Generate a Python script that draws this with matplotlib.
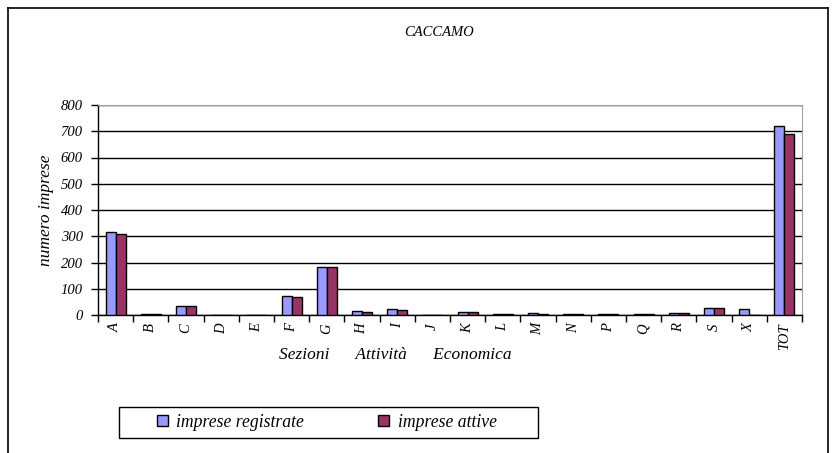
import numpy as np
import matplotlib
matplotlib.use("Agg")
import matplotlib.pyplot as plt
from matplotlib.lines import Line2D
from matplotlib.patches import Rectangle

# dati
sezioni = ["A", "B", "C", "D", "E", "F", "G", "H", "I", "J", "K", "L",
           "M", "N", "P", "Q", "R", "S", "X", "TOT"]
registrate = [315, 2, 35, 0, 0, 73, 182, 14, 22, 1, 12, 2,
              6, 2, 2, 4, 6, 25, 24, 720]
attive = [310, 2, 33, 0, 0, 70, 181, 12, 19, 1, 11, 2,
          5, 2, 2, 4, 6, 25, 1, 688]
yticks = [0, 100, 200, 300, 400, 500, 600, 700, 800]

plt.rcParams.update({
    "font.family": ["Liberation Serif", "DejaVu Serif"],
    "font.style": "italic",
})

W, H = 834, 453
fig = plt.figure(figsize=(W / 100, H / 100), dpi=100)

# cornice esterna
for xs, ys in [((8, 8), (8, H + 5)), ((8, 828), (8, 8)), ((828, 828), (8, H + 5))]:
    fig.add_artist(Line2D([x / W for x in xs], [1 - y / H for y in ys],
                          color="black", lw=1.2, transform=fig.transFigure))

ax = fig.add_axes([98 / W, 1 - 315 / H, (802 - 98) / W, (315 - 105) / H])

x = np.arange(len(sezioni))
bw = 0.284
ax.bar(x - bw / 2, registrate, bw, color="#9999FF", edgecolor="black",
       linewidth=1, label="imprese registrate", zorder=3)
ax.bar(x + bw / 2, attive, bw, color="#993366", edgecolor="black",
       linewidth=1, label="imprese attive", zorder=3)

ax.set_xlim(-0.5, len(sezioni) - 0.5)
ax.set_ylim(0, 800)
ax.set_yticks(yticks)
ax.set_yticklabels([str(v) for v in yticks], fontsize=10.5)
ax.set_xticks(x)
ax.set_xticklabels(sezioni, rotation=90, fontsize=10.5)
ax.set_xticks(np.arange(-0.5, len(sezioni)), minor=True)
ax.tick_params(axis="x", which="major", length=0, pad=6)
ax.tick_params(axis="x", which="minor", length=5, width=1, direction="out")
ax.tick_params(axis="y", length=5, width=1, direction="out", pad=6)

ax.yaxis.grid(True, color="black", linewidth=1, zorder=0)
ax.set_axisbelow(True)
for s in ["top", "right"]:
    ax.spines[s].set_color("#a0a0a0")
for s in ["left", "bottom"]:
    ax.spines[s].set_color("black")
    ax.spines[s].set_linewidth(1)

ax.set_ylabel("numero imprese", fontsize=12.5, labelpad=5)
fig.text(395 / W, 1 - 355 / H, "Sezioni      Attività      Economica",
         ha="center", va="center", fontsize=12.5)
fig.text(439 / W, 1 - 33 / H, "CACCAMO", ha="center", va="center", fontsize=10.5)

# riquadro della legenda
fig.add_artist(Rectangle((119 / W, 1 - 438 / H), (538 - 119) / W, 31 / H,
                         transform=fig.transFigure, facecolor="white",
                         edgecolor="black", linewidth=1))
fig.legend(loc="center left", ncol=2, bbox_to_anchor=(157 / W, 1 - 422.5 / H),
           fontsize=12.7, frameon=False, borderpad=0, borderaxespad=0,
           handlelength=0.6, handleheight=0.6, handletextpad=0.5,
           columnspacing=4.2)

plt.savefig("out.png", dpi=100)
